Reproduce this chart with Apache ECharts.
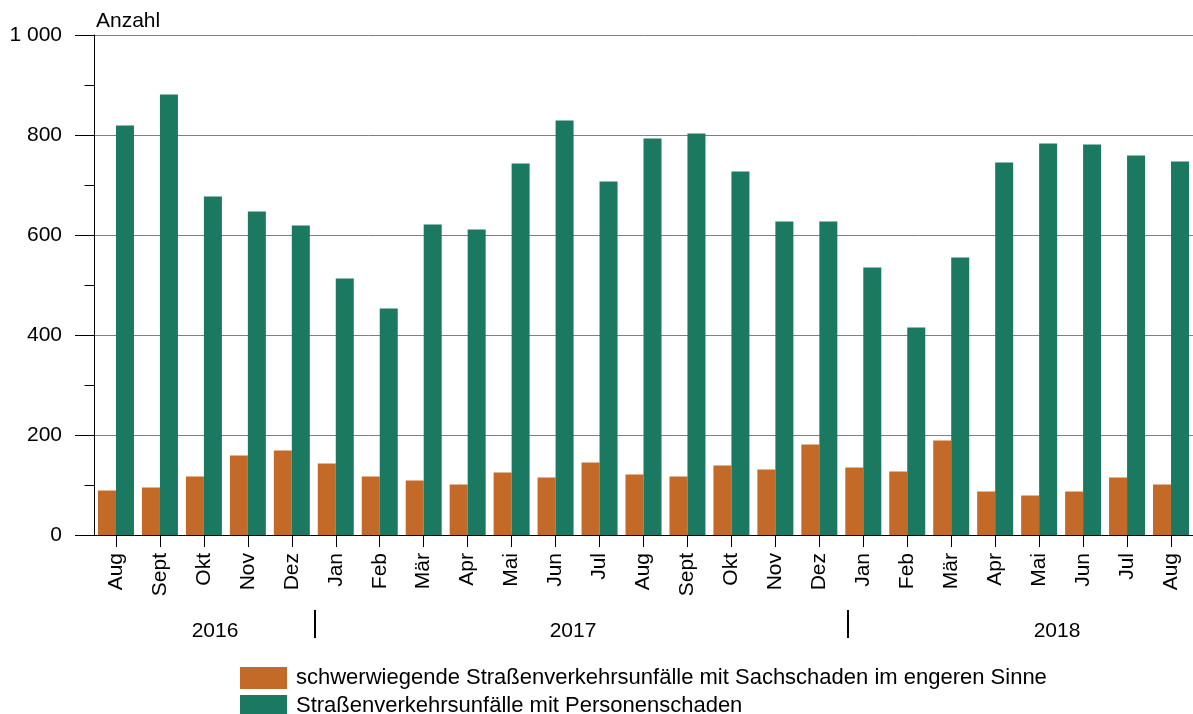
<!DOCTYPE html>
<html>
<head>
<meta charset="utf-8">
<script src="https://cdn.jsdelivr.net/npm/echarts@6/dist/echarts.min.js"></script>
<style>
html,body{margin:0;padding:0;background:#fff;}
#chart{width:1193px;height:714px;}
</style>
</head>
<body>
<div id="chart"></div>
<script>
const categories = ['Aug','Sept','Okt','Nov','Dez','Jan','Feb','Mär','Apr','Mai','Jun','Jul','Aug','Sept','Okt','Nov','Dez','Jan','Feb','Mär','Apr','Mai','Jun','Jul','Aug'];
const sachschaden = [89,95,117,159,169,143,117,109,101,125,115,145,121,117,139,131,181,135,127,189,87,79,87,115,101];
const personenschaden = [819,881,677,647,619,513,453,621,611,743,829,707,793,803,727,627,627,535,415,555,745,783,781,759,747];
const seriesNames = ['schwerwiegende Straßenverkehrsunfälle mit Sachschaden im engeren Sinne','Straßenverkehrsunfälle mit Personenschaden'];
const yearLabels = ['2016','2017','2018'];
const yTitle = 'Anzahl';

const FONT = '"Liberation Sans", Arial, sans-serif';
const chart = echarts.init(document.getElementById('chart'));
chart.setOption({
  animation: false,
  backgroundColor: '#fff',
  textStyle: {fontFamily: FONT},
  grid: {left: 94, top: 35, width: 1106, height: 500, containLabel: false},
  legend: {
    orient: 'vertical', left: 240, top: 667, height: 60, width: 900, padding: 0,
    itemWidth: 47, itemHeight: 22, itemGap: 6,
    icon: 'rect',
    textStyle: {fontSize: 22, color: '#000', fontFamily: FONT, lineHeight: 22, padding: [0, 0, 0, 4]},
    data: seriesNames
  },
  xAxis: {
    type: 'category', data: categories, boundaryGap: true,
    axisLine: {lineStyle: {color: '#000', width: 1}},
    axisTick: {show: true, alignWithLabel: true, length: 12, lineStyle: {color: '#000'}},
    axisLabel: {rotate: 90, margin: 18, fontSize: 21, color: '#000', fontFamily: FONT, interval: 0}
  },
  yAxis: {
    type: 'value', min: 0, max: 1000, interval: 200,
    axisLine: {show: true, lineStyle: {color: '#000', width: 1}},
    axisTick: {show: true, length: 19, lineStyle: {color: '#000'}},
    minorTick: {show: true, splitNumber: 2, length: 9.5, lineStyle: {color: '#000'}},
    splitLine: {show: true, lineStyle: {color: '#808080', width: 1}},
    axisLabel: {margin: 32, fontSize: 21, color: '#000', fontFamily: FONT,
      formatter: v => v >= 1000 ? String(v).replace(/\B(?=(\d{3})+(?!\d))/g, ' ') : String(v)}
  },
  series: [
    {name: seriesNames[0], type: 'bar', data: sachschaden, barWidth: 18, barGap: '0%', itemStyle: {color: '#C46A29'}},
    {name: seriesNames[1], type: 'bar', data: personenschaden, barWidth: 18, barGap: '0%', itemStyle: {color: '#1B7861'}}
  ],
  graphic: [
    {type: 'text', left: 96, top: 11, style: {text: yTitle, font: '21px ' + FONT, fill: '#000'}},
    {type: 'text', x: 215, y: 631, style: {text: yearLabels[0], font: '21px ' + FONT, fill: '#000', textAlign: 'center', textVerticalAlign: 'middle'}},
    {type: 'text', x: 573, y: 631, style: {text: yearLabels[1], font: '21px ' + FONT, fill: '#000', textAlign: 'center', textVerticalAlign: 'middle'}},
    {type: 'text', x: 1057, y: 631, style: {text: yearLabels[2], font: '21px ' + FONT, fill: '#000', textAlign: 'center', textVerticalAlign: 'middle'}},
    {type: 'line', shape: {x1: 315, y1: 610, x2: 315, y2: 638}, style: {stroke: '#000', lineWidth: 2}},
    {type: 'line', shape: {x1: 848, y1: 610, x2: 848, y2: 638}, style: {stroke: '#000', lineWidth: 2}}
  ]
});
</script>
</body>
</html>
